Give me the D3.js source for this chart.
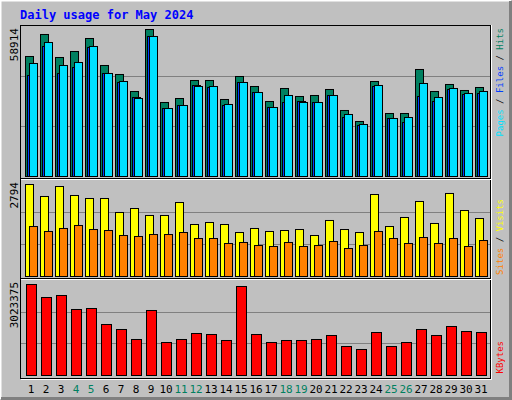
<!DOCTYPE html>
<html>
<head>
<meta charset="utf-8">
<script src="https://cdn.jsdelivr.net/npm/d3@7"></script>
<style>
    body { margin: 0; background: #fff; }
    text { font-family: "DejaVu Sans Mono", monospace; }
</style>
</head>
<body>
<svg id="chart"></svg>
<script>
(function() {

    // Data.
    const days = d3.range(1, 32);
    const weekends = [4, 5, 11, 12, 18, 19, 25, 26];
    const hits = [48096,56914,47695,50100,55310,44489,40882,34068,58914,29659,31262,38477,38477,30862,40080,36072,30060,35270,32064,32465,34870,26453,22044,38076,25250,25250,42886,34068,36874,34469,35671];
    const files = [40481,52104,41282,43687,51703,41282,37675,31663,56112,27254,28457,36473,35671,28457,37675,33667,27655,29659,30060,29659,32465,23647,20441,36072,23246,21643,32064,30060,34870,32866,33266];
    const pages = [45290,53707,44489,45691,52104,41282,38076,31262,56112,27254,28457,36072,36072,28858,37675,33667,27655,32465,29659,29659,32465,24850,20842,36473,23246,23647,37274,31663,35270,33266,34068];
    const visits = [2794,2430,2733,2460,2369,2369,1944,2065,1853,1853,2247,1579,1640,1579,1336,1458,1367,1397,1427,1245,1701,1427,1336,2490,1518,1792,2278,1610,2521,2004,1761];
    const sites = [1518,1367,1458,1549,1427,1397,1245,1215,1275,1275,1336,1154,1154,1002,1033,941,911,1033,911,941,1063,850,941,1367,1154,1002,1184,1002,1154,911,1093];
    const kbytes = [3023375,2591550,2658000,2192850,2226075,1694475,1528350,1196100,2159625,1096425,1196100,1395450,1362225,1162875,2957025,1362225,1096425,1162875,1162875,1196100,1329000,963525,863850,1428675,963525,1096425,1528350,1329000,1628025,1461900,1428675];

    const w = 512;
    const h = 400;

    const svg = d3.select('#chart')
        .attr('width', w)
        .attr('height', h);

    // Background frame
    svg.append('rect').attr('width', w).attr('height', h).attr('fill', '#c0c0c0');
    svg.append('path').attr('d', 'M0.5,399 V0.5 H511').attr('stroke', '#fff').attr('stroke-width', 2).attr('fill', 'none');
    svg.append('path').attr('d', 'M1,398.5 H510.5 V1').attr('stroke', '#808080').attr('stroke-width', 3).attr('fill', 'none');

    svg.append('text')
        .attr('x', 20).attr('y', 19)
        .attr('fill', '#0000ff')
        .attr('font-weight', 'bold')
        .attr('font-size', 12)
        .text('Daily usage for May 2024');

    // Plot area
    svg.append('rect')
        .attr('x', 20.5).attr('y', 25.5).attr('width', 470).attr('height', 353)
        .attr('fill', 'none').attr('stroke', '#000');
    svg.append('path').attr('d', 'M21,379.5 H491.5 V25').attr('stroke', '#fff').attr('fill', 'none');

    const x = d3.scaleLinear().domain([1, 31]).range([25, 475]);

    const panels = [
        {top: 26, bottom: 176, maxH: 147, max: 58914, label: '58914'},
        {top: 180, bottom: 276, maxH: 92, max: 2794, label: '2794'},
        {top: 280, bottom: 375, maxH: 91, max: 3023375, label: '3023375'}
    ];

    // Separators
    [178, 278].forEach(y => {
        svg.append('line').attr('x1', 21).attr('x2', 491).attr('y1', y + 0.5).attr('y2', y + 0.5).attr('stroke', '#000');
        svg.append('line').attr('x1', 21).attr('x2', 491).attr('y1', y + 1.5).attr('y2', y + 1.5).attr('stroke', '#fff');
    });

    panels.forEach(p => {
        p.y = d3.scaleLinear().domain([0, p.max]).range([p.bottom, p.bottom - p.maxH]);
        const span = p.bottom - p.top;
        [1 / 3, 2 / 3].forEach(f => {
            const gy = Math.round(p.bottom - span * f) + 0.5;
            svg.append('line').attr('x1', 21).attr('x2', 490).attr('y1', gy).attr('y2', gy)
                .attr('stroke', '#808080');
        });
        svg.append('text')
            .attr('transform', `translate(18, ${p.top + 2}) rotate(-90)`)
            .attr('text-anchor', 'end')
            .attr('font-size', 11)
            .attr('fill', '#000')
            .text(p.label);
    });

    const bars = (vals, p, dx, bw, color) => {
        svg.append('g').selectAll('rect')
            .data(vals)
            .join('rect')
            .attr('x', (d, i) => x(days[i]) + dx + 0.5)
            .attr('y', d => p.y(d) + 0.5)
            .attr('width', bw)
            .attr('height', d => p.bottom - p.y(d))
            .attr('fill', color)
            .attr('stroke', '#000');
    };

    bars(hits, panels[0], 0, 8, '#008060');
    bars(files, panels[0], 2, 8, '#0040ff');
    bars(pages, panels[0], 4, 8, '#00e0ff');
    bars(visits, panels[1], 0, 8, '#ffff00');
    bars(sites, panels[1], 4, 8, '#ff8000');
    bars(kbytes, panels[2], 1, 10, '#ff0000');

    // Day labels
    svg.append('g').selectAll('text')
        .data(days)
        .join('text')
        .attr('x', d => x(d) + 6)
        .attr('y', 393)
        .attr('text-anchor', 'middle')
        .attr('font-size', 11)
        .attr('fill', d => weekends.includes(d) ? '#008060' : '#000')
        .text(d => d);

    // Right side legends, reading bottom to top, ending near panel top
    const legend = (y, parts) => {
        const t = svg.append('text')
            .attr('transform', `translate(503, ${y}) rotate(-90)`)
            .attr('text-anchor', 'end')
            .attr('font-size', 9)
            .attr('xml:space', 'preserve');
        parts.forEach(([s, c]) => t.append('tspan').attr('fill', c).text(s));
    };
    legend(28, [['Pages', '#00e0ff'], [' / ', '#000'], ['Files', '#0040ff'], [' / ', '#000'], ['Hits', '#008060']]);
    legend(199, [['Sites', '#ff8000'], [' / ', '#000'], ['Visits', '#ffff00']]);
    legend(341, [['KBytes', '#ff0000']]);

})();
</script>
</body>
</html>
